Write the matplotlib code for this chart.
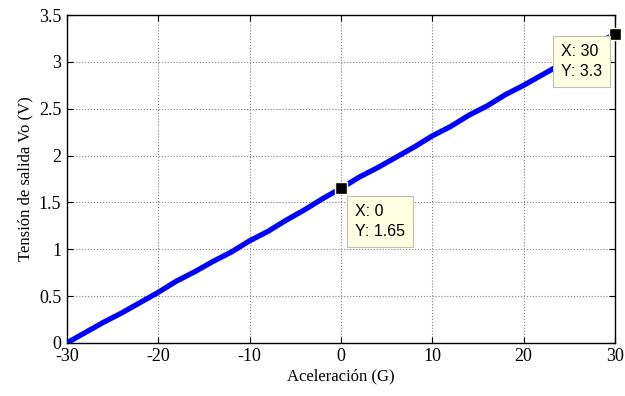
import numpy as np
import matplotlib.pyplot as plt
from matplotlib.ticker import FuncFormatter

# acceleration (G) vs output voltage (V)
acc = [-30, -28, -26, -24, -22, -20, -18, -16, -14, -12, -10, -8, -6, -4, -2, 0,
       2, 4, 6, 8, 10, 12, 14, 16, 18, 20, 22, 24, 26, 28, 30]
vout = [0.0, 0.11, 0.22, 0.32, 0.43, 0.54, 0.66, 0.76, 0.87, 0.97, 1.09, 1.19, 1.31, 1.42, 1.54, 1.65,
        1.77, 1.87, 1.98, 2.09, 2.21, 2.31, 2.43, 2.53, 2.65, 2.75, 2.86, 2.97, 3.09, 3.19, 3.3]
tips_x = [0, 30]
tips_y = [1.65, 3.3]

plt.rcParams['font.family'] = 'Liberation Serif'
plt.rcParams['axes.unicode_minus'] = False
fig = plt.figure(figsize=(6.25, 3.96), dpi=100)
ax = fig.add_axes([0.107, 0.134, 0.877, 0.828])

ax.plot(acc, vout, color='#0000ff', linewidth=3.8, solid_capstyle='round', zorder=3)
ax.plot(tips_x, tips_y, 's', color='black', markersize=9, markeredgecolor='#ffffe1',
        markeredgewidth=1, zorder=5, clip_on=False)

ax.set_xlim(-30, 30)
ax.set_ylim(0, 3.5)
ax.set_xticks(np.arange(-30, 31, 10))
ax.set_yticks(np.arange(0, 3.51, 0.5))
ax.yaxis.set_major_formatter(FuncFormatter(lambda v, p: f'{v:g}'))
ax.tick_params(direction='in', top=True, right=True, labelsize=13, length=4, pad=4)
ax.grid(True, color='#808080', linestyle=':', linewidth=0.8)
ax.set_xlabel('Aceleración (G)', fontsize=12, labelpad=2)
ax.set_ylabel('Tensión de salida Vo (V)', fontsize=12, labelpad=4)
for s in ax.spines.values():
    s.set_linewidth(1)

box = dict(boxstyle='square,pad=0.5', facecolor='#ffffe1', edgecolor='#c0c0b0', linewidth=0.8)
ax.annotate(f'X: {tips_x[0]}\nY: {tips_y[0]}', (tips_x[0], tips_y[0]), xytext=(10, -11),
            textcoords='offset points', ha='left', va='top', fontsize=11.5,
            family='Liberation Sans', bbox=box, linespacing=1.45, zorder=6)
ax.annotate(f'X: {tips_x[1]}\nY: {tips_y[1]}', (tips_x[1], tips_y[1]), xytext=(-39, -7),
            textcoords='offset points', ha='left', va='top', fontsize=11.5,
            family='Liberation Sans', bbox=box, linespacing=1.45, zorder=6)

fig.savefig('out.png', dpi=100)
